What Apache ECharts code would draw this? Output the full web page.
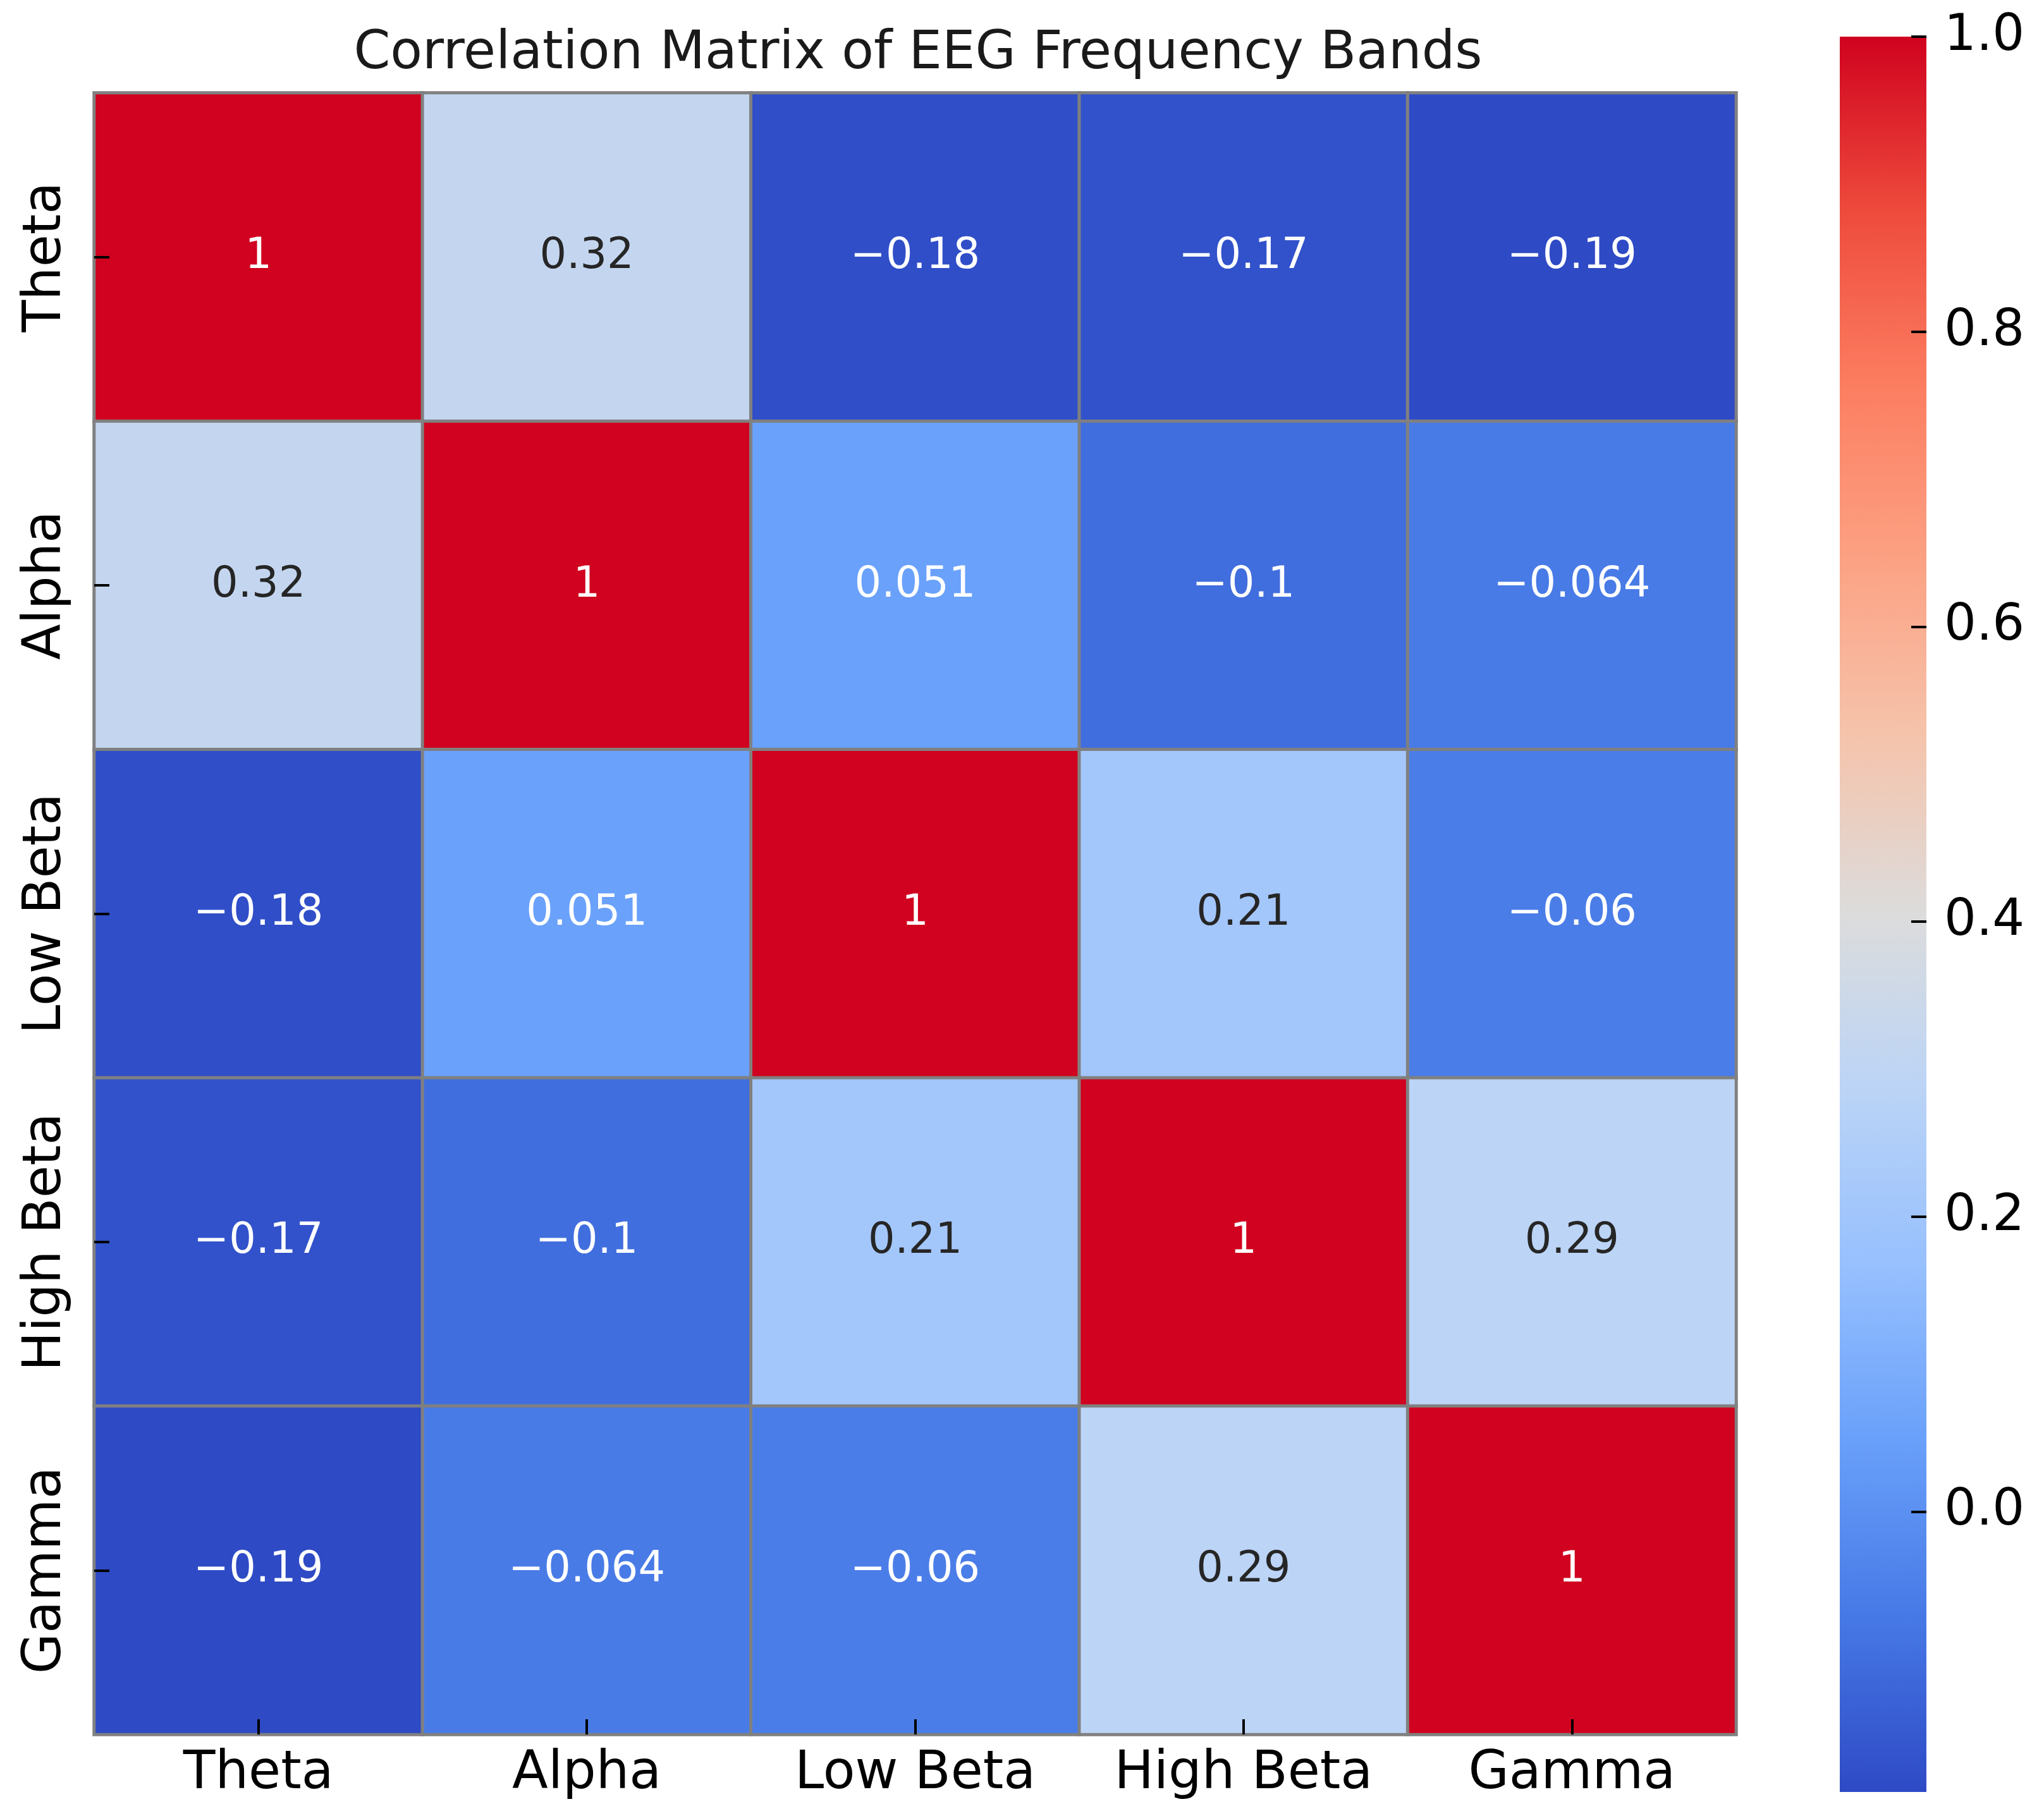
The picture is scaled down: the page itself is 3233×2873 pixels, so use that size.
<!DOCTYPE html>
<html>
<head>
<meta charset="utf-8">
<script src="https://cdn.jsdelivr.net/npm/echarts@6/dist/echarts.min.js"></script>
<style>
html,body{margin:0;padding:0;background:#fff;}
#chart{width:3233px;height:2873px;}
</style>
</head>
<body>
<div id="chart"></div>
<script>
const bands = ['Theta', 'Alpha', 'Low Beta', 'High Beta', 'Gamma'];
const corrTheta    = [1, 0.32, -0.18, -0.17, -0.19];
const corrAlpha    = [0.32, 1, 0.051, -0.1, -0.064];
const corrLowBeta  = [-0.18, 0.051, 1, 0.21, -0.06];
const corrHighBeta = [-0.17, -0.1, 0.21, 1, 0.29];
const corrGamma    = [-0.19, -0.064, -0.06, 0.29, 1];
const colorbarTicks = [0.0, 0.2, 0.4, 0.6, 0.8, 1.0];
const colorMin = -0.19, colorMax = 1.0;
const titleText = 'Correlation Matrix of EEG Frequency Bands';

const rows = [corrTheta, corrAlpha, corrLowBeta, corrHighBeta, corrGamma];
const data = [];
rows.forEach((r, yi) => r.forEach((v, xi) => data.push([xi, yi, v])));

function fmt(v) {
  return String(Number(v.toPrecision(2))).replace('-', '\u2212');
}
const stops = ['#2E4AC5','#4779E6','#69A0FA','#97C0FE','#BBD4F6','#DCDCDC',
               '#F5C4AC','#FCA284','#FC7E61','#EE4B3C','#D0021F'];
function hexToRgb(h){ return [1,3,5].map(k=>parseInt(h.slice(k,k+2),16)); }
function relLum(hex){
  const c = hexToRgb(hex).map(x=>{x/=255; return x<=0.03928 ? x/12.92 : Math.pow((x+0.055)/1.055,2.4);});
  return 0.2126*c[0]+0.7152*c[1]+0.0722*c[2];
}
function colorAt(v){
  const t=(v-colorMin)/(colorMax-colorMin)*(stops.length-1);
  const i=Math.max(0,Math.min(stops.length-2,Math.floor(t)));
  const f=t-i;
  const a=hexToRgb(stops[i]),b=hexToRgb(stops[i+1]);
  const c=a.map((x,k)=>Math.round(x*(1-f)+b[k]*f));
  return '#'+c.map(x=>x.toString(16).padStart(2,'0')).join('');
}
const cellData = data.map(d => ({
  value: d,
  label: {color: relLum(colorAt(d[2])) > 0.408 ? '#262626' : '#ffffff'}
}));

const FONT = 'DejaVu Sans';
const gradient = new echarts.graphic.LinearGradient(0, 1, 0, 0,
  stops.map((c, i) => ({offset: i / (stops.length - 1), color: c})));

const chart = echarts.init(document.getElementById('chart'));
chart.setOption({
  backgroundColor: '#ffffff',
  animation: false,
  title: {
    text: titleText,
    left: 1447,
    textAlign: 'center',
    top: 40,
    textStyle: {fontFamily: FONT, fontSize: 83, fontWeight: 'normal', color: '#1a1a1a'}
  },
  grid: [
    {left: 149, top: 147, width: 2597, height: 2597},
    {left: 2910, top: 58, width: 137, height: 2777, show: true, backgroundColor: gradient, borderWidth: 0}
  ],
  xAxis: [
    {
      type: 'category', data: bands, gridIndex: 0,
      axisLine: {show: false},
      axisTick: {show: true, inside: true, alignWithLabel: true, interval: 0, length: 24, lineStyle: {color: '#000', width: 4}},
      axisLabel: {fontFamily: FONT, fontSize: 83, color: '#000', margin: 22, interval: 0},
      splitLine: {show: false}, z: 10
    },
    {type: 'category', data: [''], gridIndex: 1, show: false}
  ],
  yAxis: [
    {
      type: 'category', data: bands, gridIndex: 0, inverse: true,
      axisLine: {show: false},
      axisTick: {show: true, inside: true, alignWithLabel: true, interval: 0, length: 24, lineStyle: {color: '#000', width: 4}},
      axisLabel: {fontFamily: FONT, fontSize: 83, color: '#000', rotate: 90, margin: 34, interval: 0},
      splitLine: {show: false}, z: 10
    },
    {
      type: 'value', gridIndex: 1, position: 'right', min: colorMin, max: colorMax,
      axisLine: {show: false, onZero: false},
      splitLine: {show: false},
      axisTick: {show: true, inside: true, length: 24, customValues: colorbarTicks, lineStyle: {color: '#000', width: 4}},
      axisLabel: {fontFamily: FONT, fontSize: 80, color: '#000', margin: 28, customValues: colorbarTicks,
        formatter: v => v.toFixed(1)},
      z: 10
    }
  ],
  visualMap: {
    type: 'continuous',
    show: false,
    min: colorMin, max: colorMax,
    seriesIndex: 0,
    inRange: {color: stops}
  },
  series: [{
    type: 'heatmap',
    xAxisIndex: 0, yAxisIndex: 0,
    data: cellData,
    itemStyle: {borderColor: '#808080', borderWidth: 5},
    label: {
      show: true,
      fontFamily: FONT, fontSize: 67,
      formatter: p => fmt(p.value[2])
    }
  }]
});
</script>
</body>
</html>
